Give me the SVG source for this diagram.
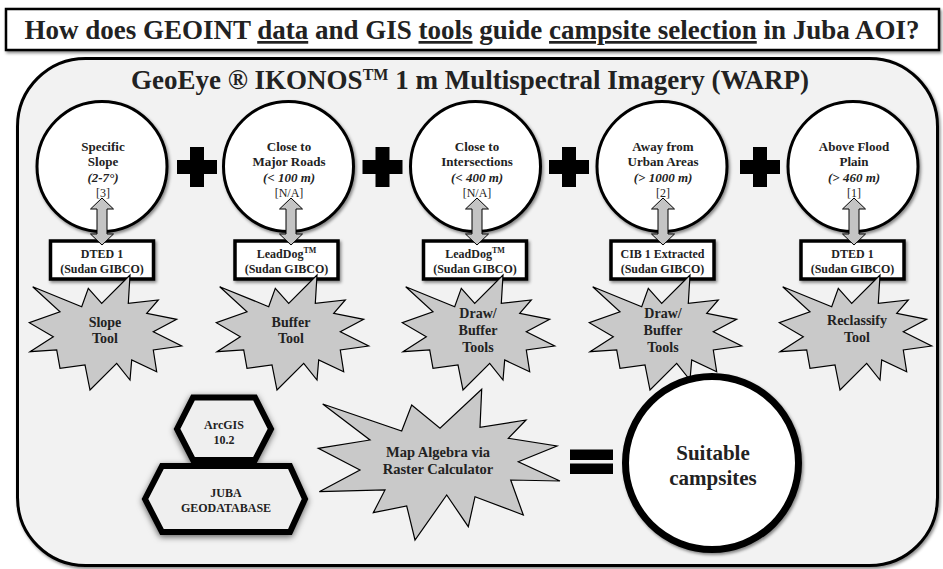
<svg xmlns="http://www.w3.org/2000/svg" width="943" height="569" viewBox="0 0 943 569">
<style>
text{font-family:"Liberation Serif","Times New Roman",serif;font-weight:bold;fill:#222;text-anchor:middle}
.t13{font-size:13px}
.it{font-style:italic}
.ref{font-weight:normal;font-size:12px}
.t12{font-size:12px}
.t14{font-size:14px}
.circ{fill:#fff;stroke:#000;stroke-width:3}
.box{fill:#fff;stroke:#000;stroke-width:3.5}
.star{fill:#c9c9c9;stroke:#000;stroke-width:1.2;stroke-linejoin:miter}
.hex{fill:#efefef;stroke:#000;stroke-width:6;stroke-linejoin:miter}
.op{fill:#000}
.arr{fill:#c4c4c4;stroke:#000;stroke-width:1}
</style>
<defs>
<filter id="sh" x="-20%" y="-20%" width="140%" height="140%">
<feDropShadow dx="1.5" dy="2" stdDeviation="1.8" flood-color="#000" flood-opacity="0.45"/>
</filter>
<filter id="sh2" x="-20%" y="-20%" width="140%" height="140%">
<feDropShadow dx="0" dy="2" stdDeviation="3" flood-color="#000" flood-opacity="0.6"/>
</filter>
<polygon id="burst" points="32.7,286.7 81.7,306.7 88.3,288.3 101.7,303.3 130,275 128.3,303.3 158.3,300 146.7,313.3 176.7,319.3 153.3,331.7 181.7,346 153.3,350 156.7,371.7 131.7,360 130,380 116.7,363.3 90,390 85,365 60,368.3 56.7,350 30,351.7 53.3,336.7 29.3,322.7 60,311.7"/>
</defs>

<g id="title">
<rect x="6" y="9" width="933" height="41" fill="#fff" stroke="#000" stroke-width="2.5" filter="url(#sh)"/>
<text x="472" y="39" style="font-size:27px">How does GEOINT <tspan text-decoration="underline">data</tspan> and GIS <tspan text-decoration="underline">tools</tspan> guide <tspan text-decoration="underline">campsite selection</tspan> in Juba AOI?</text>
</g>

<g id="panel">
<rect x="17.5" y="58.5" width="920" height="507" rx="68" ry="68" fill="#f2f2f2" stroke="#000" stroke-width="3" filter="url(#sh)"/>
<text x="470" y="89" style="font-size:27px">GeoEye ® IKONOS<tspan style="font-size:16px" dy="-9">TM</tspan><tspan dy="9"> 1 m Multispectral Imagery (WARP)</tspan></text>
</g>

<g id="criterion-slope">
<circle class="circ" cx="102" cy="166.5" r="65" filter="url(#sh)"/>
<text class="t13" x="103" y="151">Specific</text>
<text class="t13" x="103" y="166">Slope</text>
<text class="t13 it" x="103" y="182">(2-7°)</text>
<text class="ref" x="103" y="197">[3]</text>
</g>
<g id="criterion-roads">
<circle class="circ" cx="288.5" cy="166.5" r="65" filter="url(#sh)"/>
<text class="t13" x="289" y="151">Close to</text>
<text class="t13" x="289" y="166">Major Roads</text>
<text class="t13 it" x="289" y="182">(&lt; 100 m)</text>
<text class="ref" x="289" y="197">[N/A]</text>
</g>
<g id="criterion-intersections">
<circle class="circ" cx="475.5" cy="166.5" r="65" filter="url(#sh)"/>
<text class="t13" x="477" y="151">Close to</text>
<text class="t13" x="477" y="166">Intersections</text>
<text class="t13 it" x="477" y="182">(&lt; 400 m)</text>
<text class="ref" x="477" y="197">[N/A]</text>
</g>
<g id="criterion-urban">
<circle class="circ" cx="662" cy="166.5" r="65" filter="url(#sh)"/>
<text class="t13" x="663" y="151">Away from</text>
<text class="t13" x="663" y="166">Urban Areas</text>
<text class="t13 it" x="663" y="182">(&gt; 1000 m)</text>
<text class="ref" x="663" y="197">[2]</text>
</g>
<g id="criterion-flood">
<circle class="circ" cx="853" cy="166.5" r="65" filter="url(#sh)"/>
<text class="t13" x="854" y="151">Above Flood</text>
<text class="t13" x="854" y="166">Plain</text>
<text class="t13 it" x="854" y="182">(&gt; 460 m)</text>
<text class="ref" x="854" y="197">[1]</text>
</g>

<g id="plus-signs">
<path class="op" d="M190,147h14v13h13v14h-13v13h-14v-13h-13v-14h13z"/>
<path class="op" d="M375.5,147h14v13h13v14h-13v13h-14v-13h-13v-14h13z"/>
<path class="op" d="M562,147h14v13h13v14h-13v13h-14v-13h-13v-14h13z"/>
<path class="op" d="M753,147h14v13h13v14h-13v13h-14v-13h-13v-14h13z"/>
</g>

<g id="data-dted-1">
<rect class="box" x="50.5" y="241" width="103" height="38" filter="url(#sh)"/>
<text class="t12" x="102" y="258">DTED 1</text>
<text class="t12" x="102" y="273">(Sudan GIBCO)</text>
</g>
<g id="data-leaddog-1">
<rect class="box" x="235" y="241" width="103" height="38" filter="url(#sh)"/>
<text class="t12" x="286.5" y="258">LeadDog<tspan style="font-size:8px" dy="-5">TM</tspan></text>
<text class="t12" x="286.5" y="273">(Sudan GIBCO)</text>
</g>
<g id="data-leaddog-2">
<rect class="box" x="423.5" y="241" width="103" height="38" filter="url(#sh)"/>
<text class="t12" x="475" y="258">LeadDog<tspan style="font-size:8px" dy="-5">TM</tspan></text>
<text class="t12" x="475" y="273">(Sudan GIBCO)</text>
</g>
<g id="data-cib">
<rect class="box" x="611" y="241" width="103" height="38" filter="url(#sh)"/>
<text class="t12" x="662.5" y="258">CIB 1 Extracted</text>
<text class="t12" x="662.5" y="273">(Sudan GIBCO)</text>
</g>
<g id="data-dted-2">
<rect class="box" x="801" y="241" width="103" height="38" filter="url(#sh)"/>
<text class="t12" x="852.5" y="258">DTED 1</text>
<text class="t12" x="852.5" y="273">(Sudan GIBCO)</text>
</g>

<g id="tool-slope">
<use href="#burst" class="star"/>
<text class="t14" x="105" y="327">Slope</text>
<text class="t14" x="105" y="343">Tool</text>
</g>
<g id="tool-buffer">
<use href="#burst" class="star" transform="translate(187,0)"/>
<text class="t14" x="291" y="327">Buffer</text>
<text class="t14" x="291" y="343">Tool</text>
</g>
<g id="tool-draw-buffer-1">
<use href="#burst" class="star" transform="translate(373,0)"/>
<text class="t14" x="478" y="318">Draw/</text>
<text class="t14" x="478" y="335">Buffer</text>
<text class="t14" x="478" y="352">Tools</text>
</g>
<g id="tool-draw-buffer-2">
<use href="#burst" class="star" transform="translate(560,0)"/>
<text class="t14" x="663" y="318">Draw/</text>
<text class="t14" x="663" y="335">Buffer</text>
<text class="t14" x="663" y="352">Tools</text>
</g>
<g id="tool-reclassify">
<use href="#burst" class="star" transform="translate(750,0)"/>
<text class="t14" x="857" y="325">Reclassify</text>
<text class="t14" x="857" y="342">Tool</text>
</g>

<g id="arcgis">
<polygon class="hex" points="177,429 193,397.5 255,397.5 271,429 255,460 193,460" filter="url(#sh2)"/>
<text class="t12" x="224" y="429">ArcGIS</text>
<text class="t12" x="224" y="444">10.2</text>
</g>
<g id="geodatabase">
<polygon class="hex" points="145,499 162,466 290,466 305,499 290,532 162,532" filter="url(#sh2)"/>
<text class="t12" x="226" y="497">JUBA</text>
<text class="t12" x="226" y="512">GEODATABASE</text>
</g>

<g id="map-algebra">
<polygon class="star" points="322.7,404 401.7,431 411.7,405 440,428.3 481.7,389.3 480,427.3 526,420 508.3,438.3 557,446 518.3,461.7 560,481 510.7,480 523.3,515 475,496.7 468.3,526.7 446.7,495 415,540 406.7,506 373.3,512.7 385,490 319.3,491.7 360,470 318.3,448.3 370,440"/>
<text x="438" y="457" style="font-size:14.5px">Map Algebra via</text>
<text x="438" y="474" style="font-size:14.5px">Raster Calculator</text>
</g>

<g id="equals">
<rect class="op" x="570" y="449.5" width="43" height="10.5"/>
<rect class="op" x="570" y="463.5" width="43" height="10.5"/>
</g>

<g id="result">
<circle cx="712" cy="463" r="86.5" fill="#fff" stroke="#000" stroke-width="7" filter="url(#sh)"/>
<text x="713" y="460" style="font-size:21px">Suitable</text>
<text x="713" y="485" style="font-size:21px">campsites</text>
</g>

<g id="connectors">
<path class="arr" d="M102,198L113.5,209H107V234H113.5L102,245L90.5,234H97V209H90.5Z"/>
<path class="arr" d="M291,198L302.5,209H296V234H302.5L291,245L279.5,234H286V209H279.5Z"/>
<path class="arr" d="M477,198L488.5,209H482V234H488.5L477,245L465.5,234H472V209H465.5Z"/>
<path class="arr" d="M663,198L674.5,209H668V234H674.5L663,245L651.5,234H658V209H651.5Z"/>
<path class="arr" d="M854,198L865.5,209H859V234H865.5L854,245L842.5,234H849V209H842.5Z"/>
</g>
</svg>
